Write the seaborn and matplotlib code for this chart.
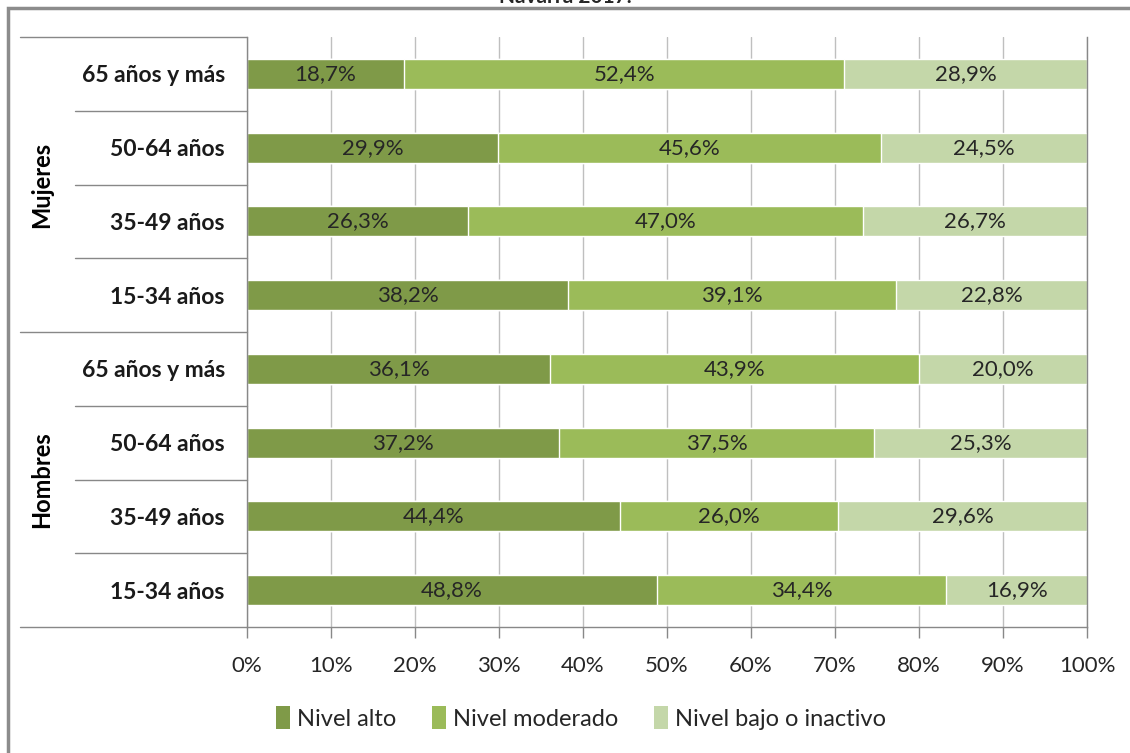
import numpy as np
import pandas as pd
import matplotlib
matplotlib.use('Agg')
import matplotlib.pyplot as plt
import seaborn as sns
from matplotlib.patches import Rectangle, Patch
import matplotlib.transforms as mtransforms

# ---- data ----
groups = ['Mujeres'] * 4 + ['Hombres'] * 4
ages = ['65 años y más', '50-64 años', '35-49 años', '15-34 años'] * 2
alto = [18.7, 29.9, 26.3, 38.2, 36.1, 37.2, 44.4, 48.8]
moderado = [52.4, 45.6, 47.0, 39.1, 43.9, 37.5, 26.0, 34.4]
bajo = [28.9, 24.5, 26.7, 22.8, 20.0, 25.3, 29.6, 16.9]
series = ['Nivel alto', 'Nivel moderado', 'Nivel bajo o inactivo']
xticks = [0, 10, 20, 30, 40, 50, 60, 70, 80, 90, 100]
xticklabels = [f'{t}%' for t in xticks]
title = 'Navarra 2017.'

colors = ['#7F9A48', '#9BBB59', '#C4D7A9']

sns.set_theme(style='white')
plt.rcParams['font.family'] = ['Lato', 'DejaVu Sans']

W, H = 1130, 753
fig = plt.figure(figsize=(W / 100, H / 100), dpi=100)
ax = fig.add_axes([247 / W, 1 - 627 / H, 840 / W, 590 / H])

df = pd.DataFrame({
    'row': [f'{g}|{a}' for g, a in zip(groups, ages)],
    'alto': alto, 'moderado': moderado, 'bajo': bajo,
})
df['c1'] = df['alto']
df['c2'] = df['alto'] + df['moderado']
df['c3'] = df['c2'] + df['bajo']
order = list(df['row'])

for col, color in [('c3', colors[2]), ('c2', colors[1]), ('c1', colors[0])]:
    sns.barplot(data=df, x=col, y='row', order=order, color=color,
                width=0.41, saturation=1, ax=ax, orient='h', zorder=2)

# data labels
lab_fs = 16
for i in range(len(df)):
    start = 0
    for v in (alto[i], moderado[i], bajo[i]):
        ax.text(start + v / 2, i, f'{v:.1f}%'.replace('.', ','), ha='center',
                va='center', fontsize=lab_fs, color='#262626', zorder=3)
        start += v

ax.set_xlim(0, 100)
ax.set_ylim(len(df) - 0.5, -0.5)
ax.set_xticks(xticks)
ax.set_xticklabels(xticklabels, fontsize=lab_fs, color='#262626')
ax.set_yticks(range(len(df)))
ax.set_yticklabels(ages, fontsize=16.5, fontweight='bold', color='#1a1a1a')
ax.set_xlabel('')
ax.set_ylabel('')
ax.tick_params(axis='x', direction='out', length=8, color='#888888', width=1, pad=13, bottom=True)
ax.tick_params(axis='y', length=0, pad=16)

ax.set_axisbelow(True)
ax.grid(axis='x', color='#BFBFBF', lw=1, zorder=0)
ax.grid(axis='y', visible=False)
ax.spines['top'].set_visible(False)
for s in ['left', 'bottom', 'right']:
    ax.spines[s].set_color('#888888')
    ax.spines[s].set_linewidth(1)
    ax.spines[s].set_zorder(4)

# category separators in the label area
trans = mtransforms.blended_transform_factory(ax.transAxes, ax.transData)
for yb in [-0.5, 3.5, 7.5]:
    ax.plot([-227 / 840, 0], [yb, yb], color='#888888', lw=1, transform=trans, clip_on=False)
for yb in [0.5, 1.5, 2.5, 4.5, 5.5, 6.5]:
    ax.plot([-172 / 840, 0], [yb, yb], color='#888888', lw=1, transform=trans, clip_on=False)

for name, yc in [('Mujeres', 1.5), ('Hombres', 5.5)]:
    ax.text(-205 / 840, yc, name, rotation=90, transform=trans, ha='center', va='center',
            fontsize=17, fontweight='bold', color='#000000')

# outer frame
fig.patches.append(Rectangle((8 / W, -0.05), 1.2, 1.05 - 8 / H, transform=fig.transFigure,
                             fill=False, ec='#8C8C8C', lw=2.5))

# partially visible title
fig.text(0.5, 1 - 3 / H, title, ha='center', va='baseline', fontsize=15, fontweight='bold')

handles = [Patch(facecolor=c, edgecolor='none') for c in colors]
fig.legend(handles, series, loc='center', bbox_to_anchor=(581 / W, 1 - 718 / H), ncol=3,
           frameon=False, fontsize=17, handlelength=0.6, handleheight=1.1,
           columnspacing=1.5, handletextpad=0.3)

fig.savefig('out.png', dpi=100)
